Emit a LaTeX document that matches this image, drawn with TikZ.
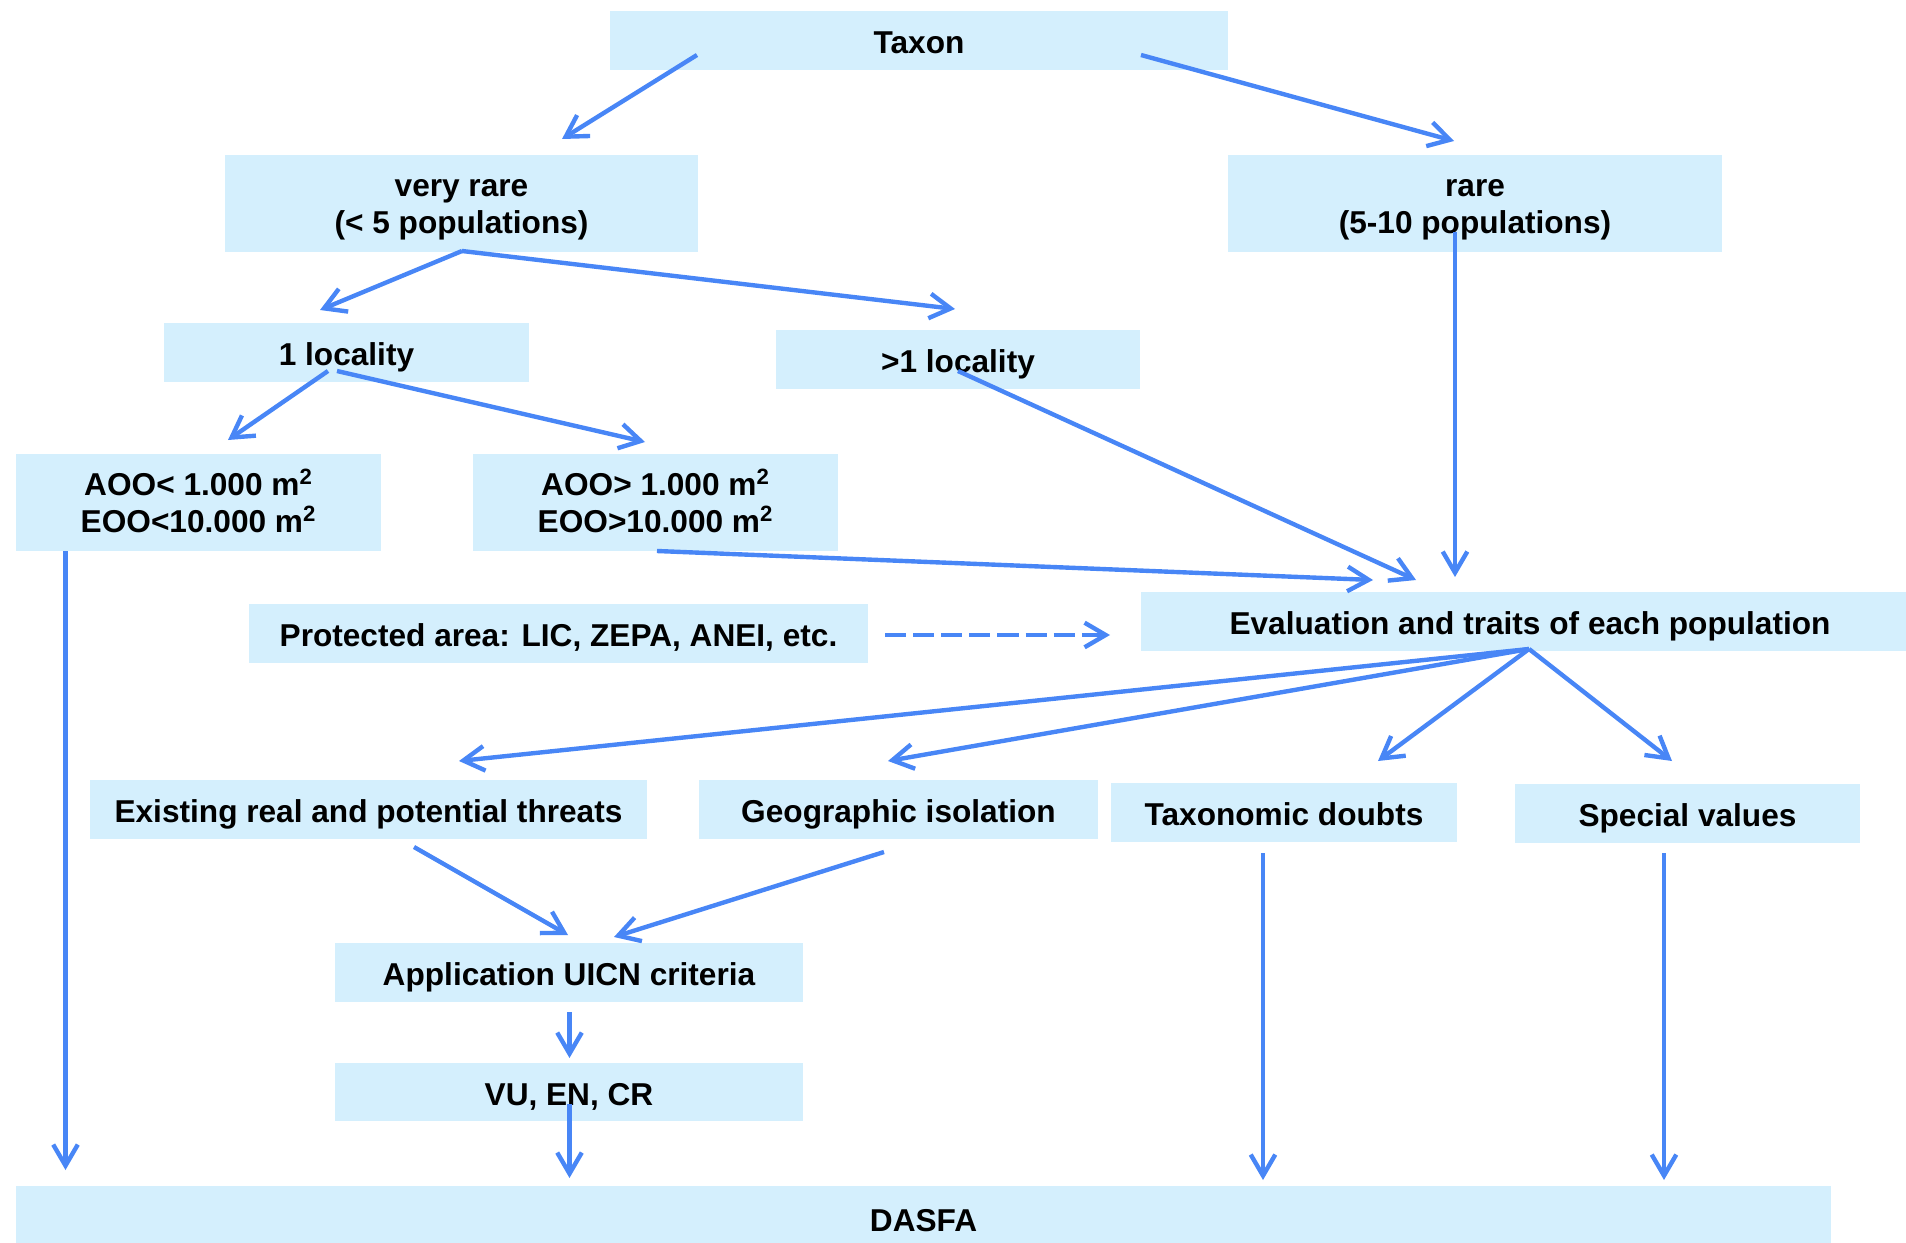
\documentclass[tikz,border=0pt]{standalone}
\usepackage{fontspec}
\setmainfont{Liberation Sans}
\usetikzlibrary{arrows.meta}
\definecolor{boxblue}{RGB}{212,239,253}
\definecolor{arrowblue}{RGB}{72,134,246}

\begin{document}
\begin{tikzpicture}[x=0.02cm,y=-0.02cm,
  box/.style={fill=boxblue,inner sep=0pt,align=center,text height=15.2pt,text depth=0pt,
    font=\fontsize{18}{21}\selectfont\bfseries},
  twoline/.style={text height=34.4pt},
  arr/.style={draw=arrowblue,line width=2.5pt,-{Straight Barb[length=12pt,width=14pt]}},
  dasharr/.style={arr,dash pattern=on 12pt off 4pt}]
\clip (0,0) rectangle (1906,1243);

\node[box,minimum width=12.36cm,minimum height=1.18cm] (taxon) at (919,40.5) {Taxon};
\node[box,twoline,minimum width=9.46cm,minimum height=1.94cm] (veryrare) at (461.5,203.5) {very rare\\(< 5 populations)};
\node[box,twoline,minimum width=9.88cm,minimum height=1.94cm] (rare) at (1475,203.5) {rare\\(5-10 populations)};
\node[box,minimum width=7.3cm,minimum height=1.18cm] (oneloc) at (346.5,352.5) {1 locality};
\node[box,minimum width=7.28cm,minimum height=1.18cm] (moreloc) at (958,359.5) {>1 locality};
\node[box,twoline,minimum width=7.3cm,minimum height=1.94cm] (aoolow) at (198.5,502.5) {AOO< 1.000 m\textsuperscript{2}\\EOO<10.000 m\textsuperscript{2}};
\node[box,twoline,minimum width=7.3cm,minimum height=1.94cm] (aoohigh) at (655.5,502.5) {AOO> 1.000 m\textsuperscript{2}\\EOO>10.000 m\textsuperscript{2}};
\node[box,minimum width=12.38cm,minimum height=1.18cm] (protected) at (558.5,633.5) {Protected area: LIC, ZEPA, ANEI, etc.};
\node[box,minimum width=15.56cm,minimum height=1.18cm] (eval) at (1530,621.5) {Evaluation and traits of each population};
\node[box,minimum width=11.14cm,minimum height=1.18cm] (threats) at (368.5,809.5) {Existing real and potential threats};
\node[box,minimum width=7.98cm,minimum height=1.18cm] (geo) at (898.5,809.5) {Geographic isolation};
\node[box,minimum width=6.92cm,minimum height=1.18cm] (taxdoubt) at (1284,812.5) {Taxonomic doubts};
\node[box,minimum width=6.9cm,minimum height=1.18cm] (special) at (1687.5,813.5) {Special values};
\node[box,minimum width=9.36cm,minimum height=1.18cm] (uicn) at (569,972.5) {Application UICN criteria};
\node[box,minimum width=9.36cm,minimum height=1.16cm] (vu) at (569,1092) {VU, EN, CR};
\node[box,minimum width=36.3cm,minimum height=1.28cm] (dasfa) at (923.5,1218) {DASFA};

% arrow ends
\coordinate (taxonL) at (697,55);
\coordinate (taxonR) at (1141,55);
\coordinate (veryrareIn) at (562,139);
\coordinate (rareIn) at (1454,141);
\coordinate (veryrareOut) at (462,251);
\coordinate (onelocIn) at (320,310);
\coordinate (morelocIn) at (955,309);
\coordinate (onelocOutL) at (328,371);
\coordinate (onelocOutR) at (337,371);
\coordinate (aoolowIn) at (228,440);
\coordinate (aoohighIn) at (645,442);
\coordinate (aoohighOut) at (657,551);
\coordinate (morelocOut) at (958,371);
\coordinate (rareOut) at (1455,232);
\coordinate (evalInA) at (1373,580);
\coordinate (evalInB) at (1416,580);
\coordinate (evalInC) at (1455,577);
\coordinate (protectedOut) at (885,635);
\coordinate (evalInD) at (1110,635);
\coordinate (evalOut) at (1529,649);
\coordinate (threatsIn) at (459,761);
\coordinate (geoIn) at (888,761);
\coordinate (taxdoubtIn) at (1378,761);
\coordinate (specialIn) at (1672,761);
\coordinate (aoolowOut) at (65.5,551);
\coordinate (dasfaInA) at (65.5,1170);
\coordinate (threatsOut) at (414,847);
\coordinate (geoOut) at (884,852);
\coordinate (uicnInL) at (568,935);
\coordinate (uicnInR) at (614,937);
\coordinate (uicnOut) at (569.5,1012);
\coordinate (vuIn) at (569.5,1058);
\coordinate (vuOut) at (569.5,1104);
\coordinate (dasfaInB) at (569.5,1178);
\coordinate (taxdoubtOut) at (1263,853);
\coordinate (dasfaInC) at (1263,1180);
\coordinate (specialOut) at (1664,853);
\coordinate (dasfaInD) at (1664,1180);

\draw[arr] (taxonL) -- (veryrareIn);
\draw[arr] (taxonR) -- (rareIn);
\draw[arr] (veryrareOut) -- (onelocIn);
\draw[arr] (veryrareOut) -- (morelocIn);
\draw[arr] (onelocOutL) -- (aoolowIn);
\draw[arr] (onelocOutR) -- (aoohighIn);
\draw[arr] (aoohighOut) -- (evalInA);
\draw[arr] (morelocOut) -- (evalInB);
\draw[arr] (rareOut) -- (evalInC);
\draw[dasharr] (protectedOut) -- (evalInD);
\draw[arr] (evalOut) -- (threatsIn);
\draw[arr] (evalOut) -- (geoIn);
\draw[arr] (evalOut) -- (taxdoubtIn);
\draw[arr] (evalOut) -- (specialIn);
\draw[arr] (aoolowOut) -- (dasfaInA);
\draw[arr] (threatsOut) -- (uicnInL);
\draw[arr] (geoOut) -- (uicnInR);
\draw[arr] (uicnOut) -- (vuIn);
\draw[arr] (vuOut) -- (dasfaInB);
\draw[arr] (taxdoubtOut) -- (dasfaInC);
\draw[arr] (specialOut) -- (dasfaInD);
\end{tikzpicture}
\end{document}
